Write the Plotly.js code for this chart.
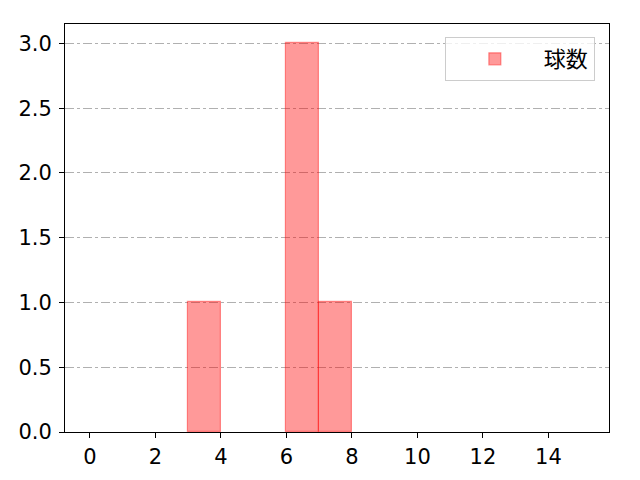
<!DOCTYPE html>
<html>
<head>
<meta charset="utf-8">
<script src="https://cdn.plot.ly/plotly-3.0.1.min.js"></script>
<style>
  body { margin: 0; }
  #chart { width: 640px; height: 480px; }
</style>
</head>
<body>
<div id="chart"></div>
<script>
// histogram bins (left edge) and counts
var binStarts = [3, 6, 7];
var counts = [1, 3, 1];
var seriesName = '球数';

var font = '"DejaVu Sans", "Noto Sans CJK JP", sans-serif';

Plotly.newPlot('chart', [{
    type: 'bar',
    x: binStarts,
    y: counts,
    width: 1,
    offset: 0,
    name: seriesName,
    marker: {
        color: 'rgba(255,0,0,0.4)',
        line: { color: 'rgba(255,0,0,0.4)', width: 1.2 }
    },
    showlegend: true
}], {
    width: 640,
    height: 480,
    margin: { l: 65, r: 31, t: 24, b: 48 },
    paper_bgcolor: 'white',
    plot_bgcolor: 'white',
    font: { family: font, size: 21, color: '#000' },
    bargap: 0,
    xaxis: {
        range: [-0.76, 15.85],
        tickvals: [0, 2, 4, 6, 8, 10, 12, 14],
        showgrid: false,
        zeroline: false,
        showline: true,
        linecolor: '#000',
        linewidth: 1,
        mirror: true,
        ticks: 'outside',
        ticklen: 5,
        tickcolor: '#000',
        ticklabelstandoff: 1,
        tickfont: { size: 21 }
    },
    yaxis: {
        range: [0, 3.15],
        tickvals: [0, 0.5, 1, 1.5, 2, 2.5, 3],
        ticktext: ['0.0', '0.5', '1.0', '1.5', '2.0', '2.5', '3.0'],
        showgrid: true,
        gridcolor: '#b0b0b0',
        gridwidth: 0.8,
        griddash: 'dashdot',
        zeroline: false,
        showline: true,
        linecolor: '#000',
        linewidth: 1,
        mirror: true,
        ticks: 'outside',
        ticklen: 5,
        tickcolor: '#000',
        ticklabelstandoff: 3,
        tickfont: { size: 21 }
    },
    legend: {
        x: 0.974,
        y: 0.968,
        xanchor: 'right',
        yanchor: 'top',
        bgcolor: 'rgba(255,255,255,0.8)',
        bordercolor: '#cccccc',
        borderwidth: 1,
        itemwidth: 88,
        font: { family: '"Noto Sans CJK JP", sans-serif', size: 22 }
    }
}, { displayModeBar: false });
</script>
</body>
</html>
